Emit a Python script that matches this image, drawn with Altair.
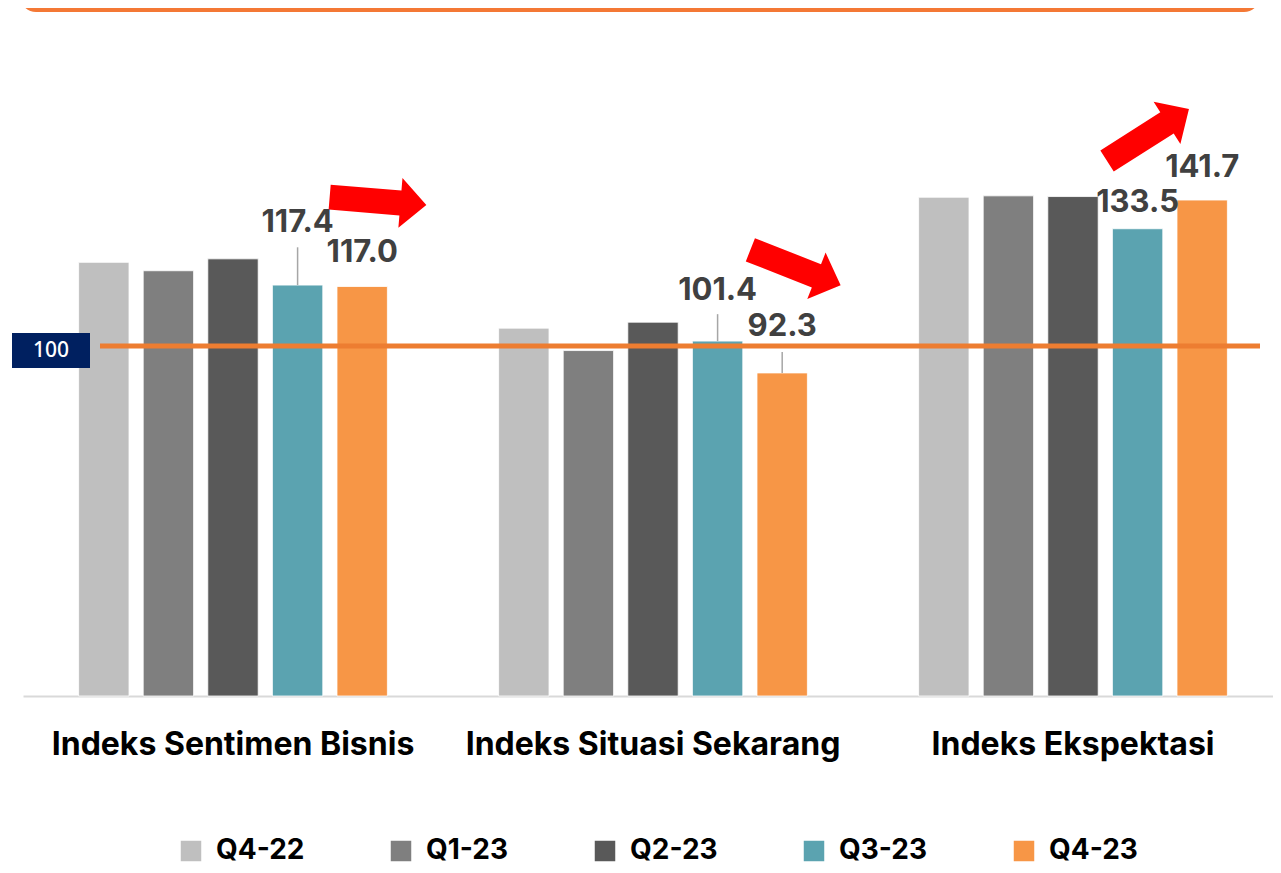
import math
import altair as alt
import pandas as pd

# ---------------- data ----------------
categories = ["Indeks Sentimen Bisnis", "Indeks Situasi Sekarang", "Indeks Ekspektasi"]
series = ["Q4-22", "Q1-23", "Q2-23", "Q3-23", "Q4-23"]
colors = ["#BFBFBF", "#7F7F7F", "#595959", "#5BA3B0", "#F79646"]

sentimen = [123.9, 121.5, 124.9, 117.4, 117.0]
situasi = [105.1, 98.7, 106.8, 101.4, 92.3]
ekspektasi = [142.5, 142.9, 142.7, 133.5, 141.7]

labelled_series = ["Q3-23", "Q4-23"]
# label lift above bar top (index units) for Q3-23 / Q4-23 of each group
label_lift = [15.1, 7.1, 11.7, 10.6, 4.9, 6.5]
# leader-line length (index units), 0 = no leader
leader_len = [10.8, 0, 7.7, 6.0, 0, 0]

reference_value = [100]

# trend arrows: group, height (index units), angle (deg, clockwise), horizontal shift (px)
arrow_cat = categories
arrow_y = [141.4, 122.4, 160.3]
arrow_angle = [4.7, 21.5, -32.4]
arrow_shift = [145, 142.5, 75]

# ---------------- tables ----------------
rows = []
for cat, vals in zip(categories, [sentimen, situasi, ekspektasi]):
    for s, v in zip(series, vals):
        rows.append({"category": cat, "series": s, "value": v})
bars = pd.DataFrame(rows)

lab_rows = []
i = 0
for cat, vals in zip(categories, [sentimen, situasi, ekspektasi]):
    for s, v in zip(series, vals):
        if s in labelled_series:
            lab_rows.append({
                "category": cat, "series": s, "value": v,
                "label": f"{v:.1f}",
                "ly": v + label_lift[i],
                "lead_top": v + leader_len[i],
                "has_leader": leader_len[i] > 0,
            })
            i += 1
labels = pd.DataFrame(lab_rows)
leaders = labels[labels["has_leader"]]

ref = pd.DataFrame({"v": reference_value})


def arrow_path(angle, shift, L=97.0, hw=12.5, Hw=25.0, hl=26.0, unit=25.0):
    pts = [(-L / 2, -hw), (L / 2 - hl, -hw), (L / 2 - hl, -Hw), (L / 2, 0),
           (L / 2 - hl, Hw), (L / 2 - hl, hw), (-L / 2, hw)]
    t = math.radians(angle)
    c, s = math.cos(t), math.sin(t)
    out = []
    for x, y in pts:
        xr = x * c - y * s + shift
        yr = x * s + y * c
        out.append(f"{xr / unit:.4f},{yr / unit:.4f}")
    return "M" + " L".join(out) + " Z"


arrow_ids = ["a1", "a2", "a3"]
arrow_paths = [arrow_path(a, sh) for a, sh in zip(arrow_angle, arrow_shift)]
arrows = pd.DataFrame({"id": arrow_ids, "category": arrow_cat, "y": arrow_y})

# ---------------- scales ----------------
FONT = "Inter"
x_scale = alt.Scale(domain=categories, range=[0, 1260], paddingInner=0.231, paddingOuter=0.1155)
xo_scale = alt.Scale(domain=series, paddingInner=0.22, paddingOuter=0.11)
y_scale = alt.Scale(domain=[0, 196.57], nice=False, zero=True)

x_enc = alt.X("category:N", sort=categories, scale=x_scale,
              axis=alt.Axis(title=None, labelFont=FONT, labelFontSize=32, labelFontWeight="bold",
                            labelColor="#000000", labelPadding=33, ticks=False, labelLimit=0,
                            domainColor="#D9D9D9", domainWidth=2, labelAngle=0, grid=False))

bar_layer = alt.Chart(bars).mark_bar(stroke="white", strokeWidth=0.8).encode(
    x=x_enc,
    xOffset=alt.XOffset("series:N", sort=series, scale=xo_scale),
    y=alt.Y("value:Q", scale=y_scale, axis=None),
    color=alt.Color("series:N", sort=series,
                    scale=alt.Scale(domain=series, range=colors),
                    legend=alt.Legend(title=None, orient="none", legendX=154, legendY=829,
                                      direction="horizontal", symbolType="square",
                                      symbolSize=420, symbolStrokeWidth=0, symbolOpacity=1,
                                      labelFont=FONT, labelFontSize=28, labelFontWeight="bold",
                                      labelColor="#000000", labelOffset=11, columnPadding=82,
                                      labelLimit=0, padding=0)),
)

leader_layer = alt.Chart(leaders).mark_rule(color="#A6A6A6", strokeWidth=1.5).encode(
    x=alt.X("category:N", sort=categories, scale=x_scale),
    xOffset=alt.XOffset("series:N", sort=series, scale=xo_scale),
    y=alt.Y("value:Q", scale=y_scale, axis=None),
    y2="lead_top:Q",
)

label_layer = alt.Chart(labels).mark_text(
    font=FONT, fontSize=31, fontWeight="bold", color="#404040", baseline="alphabetic", align="center"
).encode(
    x=alt.X("category:N", sort=categories, scale=x_scale),
    xOffset=alt.XOffset("series:N", sort=series, scale=xo_scale),
    y=alt.Y("ly:Q", scale=y_scale, axis=None),
    text="label:N",
)

ref_line = alt.Chart(ref).mark_rule(color="#ED7D31", strokeWidth=5).encode(
    x=alt.value(77), x2=alt.value(1237),
    y=alt.Y("v:Q", scale=y_scale, axis=None),
)

ref_box = alt.Chart(ref).transform_calculate(
    top="datum.v + 3.7", bot="datum.v - 6.3"
).mark_rect(color="#002060").encode(
    x=alt.value(-11), x2=alt.value(67),
    y=alt.Y("top:Q", scale=y_scale, axis=None), y2="bot:Q",
)

ref_text = alt.Chart(ref).transform_calculate(
    mid="datum.v - 1.3"
).mark_text(font="Noto Sans", fontSize=21, fontWeight=500, color="white", baseline="middle",
            align="center").encode(
    x=alt.value(28),
    y=alt.Y("mid:Q", scale=y_scale, axis=None),
    text=alt.Text("v:Q", format="d"),
)

arrow_layer = alt.Chart(arrows).mark_point(filled=True, opacity=1, size=2500, strokeWidth=0).encode(
    x=alt.X("category:N", sort=categories, scale=x_scale),
    y=alt.Y("y:Q", scale=y_scale, axis=None),
    shape=alt.Shape("id:N", scale=alt.Scale(domain=arrow_ids, range=arrow_paths), legend=None),
    color=alt.value("#FF0000"),
)

frame = alt.Chart(ref).mark_rect(fill="white", stroke="#F47835", strokeWidth=4, cornerRadius=14).encode(
    x=alt.value(-1), x2=alt.value(1235), y=alt.value(-60), y2=alt.value(2),
)

chart = alt.layer(
    frame, bar_layer, leader_layer, ref_line, ref_box, ref_text, label_layer, arrow_layer
).properties(
    width=1250, height=688,
    autosize=alt.AutoSizeParams(type="none"),
    padding={"left": 15, "top": 0, "right": 0, "bottom": 169},
).configure(background="white").configure_view(stroke=None)

chart.save("out.html", embed_options={"renderer": "svg", "actions": False})
